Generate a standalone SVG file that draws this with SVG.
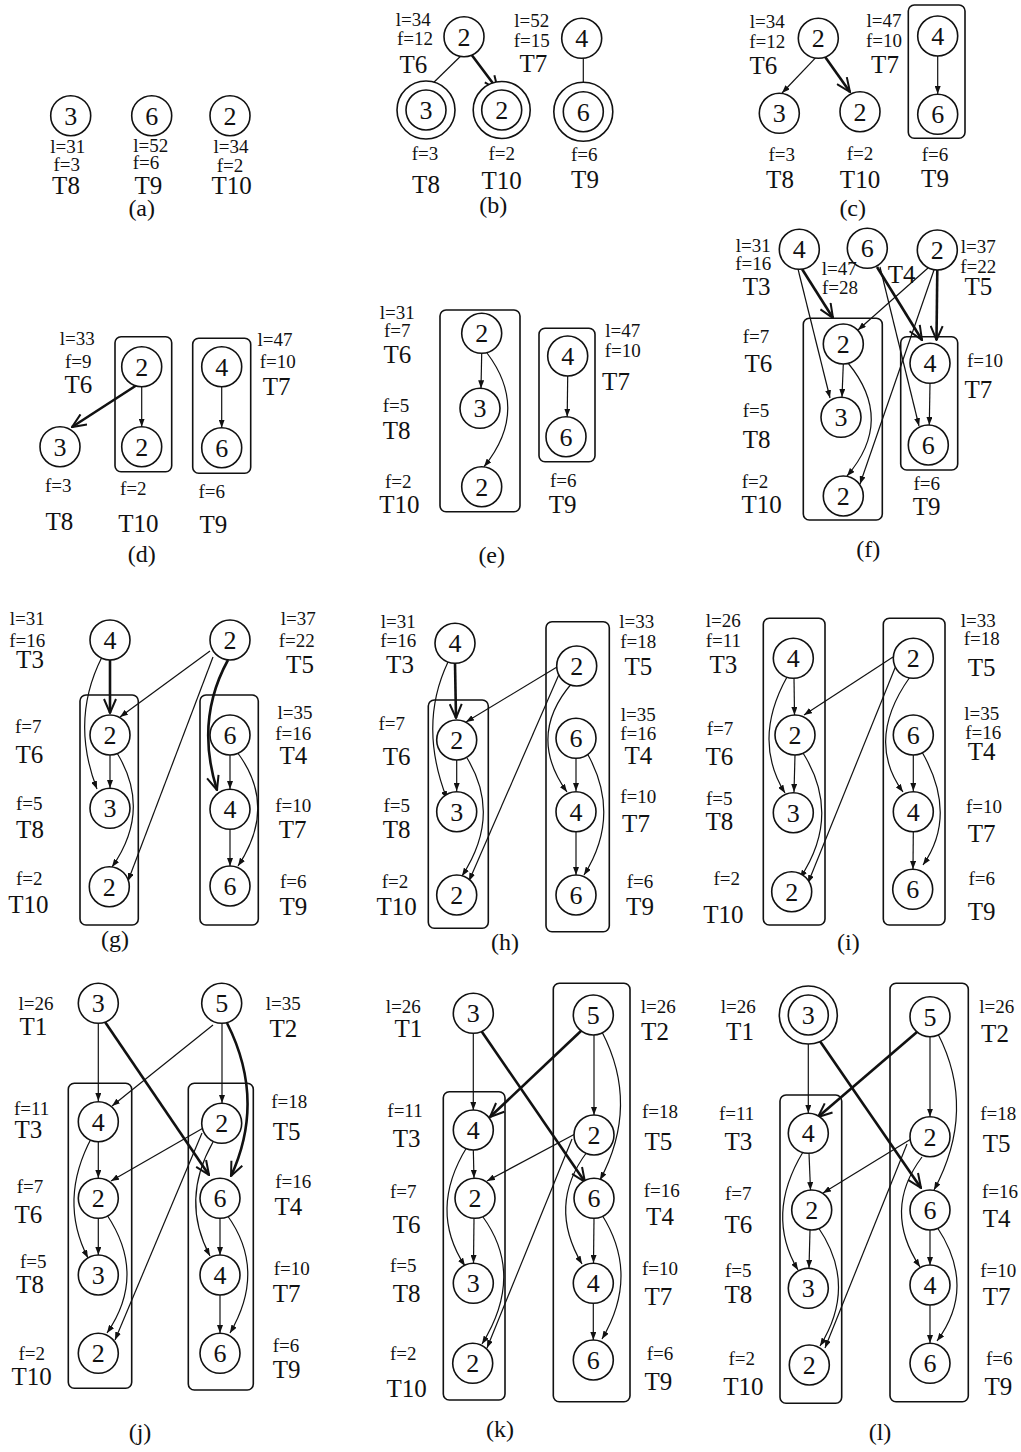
<svg xmlns="http://www.w3.org/2000/svg" width="1021" height="1452" viewBox="0 0 1021 1452">
<style>
text{font-family:"Liberation Serif","Times New Roman",serif;fill:#111;text-anchor:middle}
.n circle{fill:#fff;stroke:#111;stroke-width:1.6}
.n text{font-size:26px}
.ring{fill:none;stroke:#111;stroke-width:1.6}
.t{font-size:25px}
.s{font-size:19px}
.c{font-size:24px}
.box{fill:none;stroke:#111;stroke-width:1.6}
.e{fill:none;stroke:#111;stroke-width:1.2;marker-end:url(#ah)}
.b{fill:none;stroke:#111;stroke-width:2.6;marker-end:url(#av)}
</style>
<defs>
<marker id="ah" markerUnits="userSpaceOnUse" markerWidth="8" markerHeight="6" refX="8" refY="3" orient="auto" viewBox="0 0 8 6"><path d="M0,0 L8,3 L0,6 z" fill="#111"/></marker>
<marker id="av" markerUnits="userSpaceOnUse" markerWidth="16" markerHeight="14" refX="15" refY="7" orient="auto" viewBox="0 0 16 14"><path d="M1,1 L15,7 L1,13" fill="none" stroke="#111" stroke-width="2"/></marker>
</defs>
<rect width="1021" height="1452" fill="#fff"/>

<!-- (a) -->
<g id="panel-a">
<g id="a-T8" class="n"><circle cx="70.7" cy="115.7" r="20"/><text x="70.7" y="124.7">3</text></g>
<g id="a-T9" class="n"><circle cx="151.7" cy="115.7" r="20"/><text x="151.7" y="124.7">6</text></g>
<g id="a-T10" class="n"><circle cx="230" cy="115.7" r="20"/><text x="230" y="124.7">2</text></g>
<text class="s" x="67.7" y="152.7">l=31</text><text class="s" x="66.7" y="170.7">f=3</text><text class="t" x="66" y="194">T8</text>
<text class="s" x="150.7" y="151.7">l=52</text><text class="s" x="146" y="169.3">f=6</text><text class="t" x="148.3" y="194">T9</text>
<text class="s" x="231" y="153.3">l=34</text><text class="s" x="230" y="171.7">f=2</text><text class="t" x="231.7" y="194">T10</text>
<text class="c" x="141.7" y="216">(a)</text>
</g>

<!-- (b) -->
<g id="panel-b">
<g id="b-edges"><path class="e" d="M460,56.7 L427,89"/><path class="b" d="M471.7,55 L498,90"/><path class="e" d="M583.3,58 L583.3,91"/></g>
<g id="b-T6" class="n"><circle cx="464" cy="36.7" r="20"/><text x="464" y="45.7">2</text></g>
<g id="b-T7" class="n"><circle cx="581.7" cy="38.3" r="20"/><text x="581.7" y="47.3">4</text></g>
<g id="b-T8" class="n"><circle class="ring" cx="426" cy="110" r="29"/><circle cx="426" cy="110" r="20"/><text x="426" y="119">3</text></g>
<g id="b-T10" class="n"><circle class="ring" cx="501.7" cy="110" r="28.5"/><circle cx="501.7" cy="110" r="20"/><text x="501.7" y="119">2</text></g>
<g id="b-T9" class="n"><circle class="ring" cx="583.3" cy="111.7" r="29.5"/><circle cx="583.3" cy="111.7" r="20"/><text x="583.3" y="120.7">6</text></g>
<text class="s" x="413.3" y="26">l=34</text><text class="s" x="415" y="45">f=12</text><text class="t" x="413.3" y="72.7">T6</text>
<text class="s" x="531.7" y="26.7">l=52</text><text class="s" x="531.7" y="46.7">f=15</text><text class="t" x="533.3" y="71.7">T7</text>
<text class="s" x="425" y="160">f=3</text><text class="t" x="426" y="193">T8</text>
<text class="s" x="501.7" y="160">f=2</text><text class="t" x="501.7" y="189">T10</text>
<text class="s" x="584.3" y="160.7">f=6</text><text class="t" x="585" y="188">T9</text>
<text class="c" x="493.3" y="213">(b)</text>
</g>

<!-- (c) -->
<g id="panel-c">
<rect class="box" x="908.3" y="5" width="56.7" height="133.3" rx="6"/>
<g id="c-edges"><path class="e" d="M816.7,56.7 L782,93"/><path class="b" d="M825,56.7 L850,92"/><path class="e" d="M937.7,56 L937.7,94"/></g>
<g id="c-T6" class="n"><circle cx="818.3" cy="38.3" r="20"/><text x="818.3" y="47.3">2</text></g>
<g id="c-T8" class="n"><circle cx="779.3" cy="113.3" r="20"/><text x="779.3" y="122.3">3</text></g>
<g id="c-T10" class="n"><circle cx="860" cy="111.7" r="20"/><text x="860" y="120.7">2</text></g>
<g id="c-T7" class="n"><circle cx="937.7" cy="36" r="20"/><text x="937.7" y="45">4</text></g>
<g id="c-T9" class="n"><circle cx="937.7" cy="114.3" r="20"/><text x="937.7" y="123.3">6</text></g>
<text class="s" x="767.3" y="28.3">l=34</text><text class="s" x="767.3" y="48.3">f=12</text><text class="t" x="763.3" y="74">T6</text>
<text class="s" x="884" y="26.7">l=47</text><text class="s" x="884" y="46.7">f=10</text><text class="t" x="885" y="72.7">T7</text>
<text class="s" x="781.7" y="160.7">f=3</text><text class="t" x="780" y="188.3">T8</text>
<text class="s" x="860" y="160">f=2</text><text class="t" x="860" y="188.3">T10</text>
<text class="s" x="935" y="160.7">f=6</text><text class="t" x="935" y="187.3">T9</text>
<text class="c" x="852.7" y="216">(c)</text>
</g>

<!-- (d) -->
<g id="panel-d">
<rect class="box" x="115" y="336.7" width="56.7" height="135" rx="6"/>
<rect class="box" x="192.7" y="338.3" width="58" height="135" rx="6"/>
<g id="d-edges"><path class="b" d="M140,383 L72,427"/><path class="e" d="M141.7,386.7 L141.7,426.7"/><path class="e" d="M221.7,386.7 L221.7,427.7"/></g>
<g id="d-T6" class="n"><circle cx="141.7" cy="366.7" r="20"/><text x="141.7" y="375.7">2</text></g>
<g id="d-T10" class="n"><circle cx="141.7" cy="446.7" r="20"/><text x="141.7" y="455.7">2</text></g>
<g id="d-T7" class="n"><circle cx="221.7" cy="366.7" r="20"/><text x="221.7" y="375.7">4</text></g>
<g id="d-T9" class="n"><circle cx="221.7" cy="447.7" r="20"/><text x="221.7" y="456.7">6</text></g>
<g id="d-T8" class="n"><circle cx="60" cy="446.7" r="20"/><text x="60" y="455.7">3</text></g>
<text class="s" x="77.3" y="345">l=33</text><text class="s" x="78.3" y="368.3">f=9</text><text class="t" x="78.3" y="393.3">T6</text>
<text class="s" x="275" y="346">l=47</text><text class="s" x="277.7" y="368.3">f=10</text><text class="t" x="276.7" y="395">T7</text>
<text class="s" x="58.3" y="491.7">f=3</text><text class="t" x="59.3" y="530">T8</text>
<text class="s" x="133.3" y="495">f=2</text><text class="t" x="138.3" y="531.7">T10</text>
<text class="s" x="211.7" y="498.3">f=6</text><text class="t" x="213.3" y="533.3">T9</text>
<text class="c" x="141.7" y="561.7">(d)</text>
</g>

<!-- (e) -->
<g id="panel-e">
<rect class="box" x="440" y="310" width="80" height="201.7" rx="6"/>
<rect class="box" x="539" y="328.3" width="56" height="133.4" rx="6"/>
<g id="e-edges"><path class="e" d="M481.7,353.3 L481,388.3"/><path class="e" d="M487,353 Q530,410 484,466.7"/><path class="e" d="M567.7,376 L567.2,416.7"/></g>
<g id="e-T6" class="n"><circle cx="481.7" cy="333.3" r="20"/><text x="481.7" y="342.3">2</text></g>
<g id="e-T8" class="n"><circle cx="480" cy="408.3" r="20"/><text x="480" y="417.3">3</text></g>
<g id="e-T10" class="n"><circle cx="481.7" cy="486.7" r="20"/><text x="481.7" y="495.7">2</text></g>
<g id="e-T7" class="n"><circle cx="567.7" cy="356" r="20"/><text x="567.7" y="365">4</text></g>
<g id="e-T9" class="n"><circle cx="566" cy="436.7" r="20"/><text x="566" y="445.7">6</text></g>
<text class="s" x="397.3" y="319.3">l=31</text><text class="s" x="397.3" y="337.3">f=7</text><text class="t" x="397.3" y="363.3">T6</text>
<text class="s" x="396" y="411.7">f=5</text><text class="t" x="396.7" y="439.3">T8</text>
<text class="s" x="398.3" y="488.3">f=2</text><text class="t" x="399.3" y="513.3">T10</text>
<text class="s" x="622.7" y="336.7">l=47</text><text class="s" x="622.7" y="357.3">f=10</text><text class="t" x="616" y="390">T7</text>
<text class="s" x="563.3" y="486.7">f=6</text><text class="t" x="562.7" y="513.3">T9</text>
<text class="c" x="491.7" y="563.3">(e)</text>
</g>

<!-- (f) -->
<g id="panel-f">
<rect class="box" x="803.3" y="318.3" width="79" height="201.7" rx="6"/>
<rect class="box" x="900.7" y="336.7" width="57" height="133.3" rx="6"/>
<g id="f-edges">
<path class="e" d="M798,269 L830,398"/>
<path class="b" d="M802,269 L833,318"/>
<path class="e" d="M880,267 L919,426"/>
<path class="b" d="M877,267 L922,340"/>
<path class="e" d="M928,268 L858,330"/>
<path class="e" d="M934,270 L860,484"/>
<path class="b" d="M937.3,270 L936.5,340"/>
<path class="e" d="M843.3,364 L842,397"/>
<path class="e" d="M848,363 Q895,420 847,476"/>
<path class="e" d="M930,383.3 L929.3,425"/>
</g>
<g id="f-T3" class="n"><circle cx="799.3" cy="249.3" r="20"/><text x="799.3" y="258.3">4</text></g>
<g id="f-T4" class="n"><circle cx="867.3" cy="248.3" r="20"/><text x="867.3" y="257.3">6</text></g>
<g id="f-T5" class="n"><circle cx="937.3" cy="250" r="20"/><text x="937.3" y="259">2</text></g>
<g id="f-T6" class="n"><circle cx="843.3" cy="344" r="20"/><text x="843.3" y="353">2</text></g>
<g id="f-T8" class="n"><circle cx="841" cy="417.3" r="20"/><text x="841" y="426.3">3</text></g>
<g id="f-T10" class="n"><circle cx="843.3" cy="496" r="20"/><text x="843.3" y="505">2</text></g>
<g id="f-T7" class="n"><circle cx="930" cy="363.3" r="20"/><text x="930" y="372.3">4</text></g>
<g id="f-T9" class="n"><circle cx="928.3" cy="445" r="20"/><text x="928.3" y="454">6</text></g>
<text class="s" x="753.3" y="251.7">l=31</text><text class="s" x="753.3" y="270">f=16</text><text class="t" x="756.7" y="295">T3</text>
<text class="s" x="839.3" y="275">l=47</text><text class="s" x="840" y="294">f=28</text><text class="t" x="901.7" y="283.3">T4</text>
<text class="s" x="978.3" y="253.3">l=37</text><text class="s" x="978.3" y="273.3">f=22</text><text class="t" x="978.3" y="295">T5</text>
<text class="s" x="756" y="343.3">f=7</text><text class="t" x="758.3" y="371.7">T6</text>
<text class="s" x="756" y="416.7">f=5</text><text class="t" x="756.7" y="447.7">T8</text>
<text class="s" x="755" y="488.3">f=2</text><text class="t" x="761.7" y="513.3">T10</text>
<text class="s" x="985" y="366.7">f=10</text><text class="t" x="978.3" y="398.3">T7</text>
<text class="s" x="926.7" y="490">f=6</text><text class="t" x="926.7" y="515">T9</text>
<text class="c" x="868.3" y="556.7">(f)</text>
</g>

<!-- (g) -->
<g id="panel-g">
<rect class="box" x="80" y="695" width="58.3" height="230" rx="6"/>
<rect class="box" x="200" y="695" width="58.3" height="230" rx="6"/>
<g id="g-edges">
<path class="b" d="M110,660 L110,713"/>
<path class="e" d="M102,657 Q70,720 97,789"/>
<path class="e" d="M210,651 L120,717"/>
<path class="e" d="M213,657 L128,881"/>
<path class="b" d="M228,660 Q195,720 217,790"/>
<path class="e" d="M110,755 L110,788"/>
<path class="e" d="M117,753 Q152,810 112,867"/>
<path class="e" d="M230,755 L230,789"/>
<path class="e" d="M237,752 Q278,806 238,866"/>
<path class="e" d="M230,829 L230,866"/>
</g>
<g id="g-T3" class="n"><circle cx="110" cy="640" r="20"/><text x="110" y="649">4</text></g>
<g id="g-T5" class="n"><circle cx="230" cy="640" r="20"/><text x="230" y="649">2</text></g>
<g id="g-T6" class="n"><circle cx="110" cy="735" r="20"/><text x="110" y="744">2</text></g>
<g id="g-T8" class="n"><circle cx="110" cy="808.3" r="20"/><text x="110" y="817.3">3</text></g>
<g id="g-T10" class="n"><circle cx="109.3" cy="886.7" r="20"/><text x="109.3" y="895.7">2</text></g>
<g id="g-T4" class="n"><circle cx="230" cy="735" r="20"/><text x="230" y="744">6</text></g>
<g id="g-T7" class="n"><circle cx="230" cy="809.3" r="20"/><text x="230" y="818.3">4</text></g>
<g id="g-T9" class="n"><circle cx="230" cy="886" r="20"/><text x="230" y="895">6</text></g>
<text class="s" x="27.3" y="625">l=31</text><text class="s" x="27.3" y="646.7">f=16</text><text class="t" x="30" y="668.3">T3</text>
<text class="s" x="298.3" y="625">l=37</text><text class="s" x="296.7" y="646.7">f=22</text><text class="t" x="300" y="673.3">T5</text>
<text class="s" x="28.3" y="733.3">f=7</text><text class="t" x="29.3" y="763.3">T6</text>
<text class="s" x="295" y="719">l=35</text><text class="s" x="293.3" y="740">f=16</text><text class="t" x="293.3" y="764">T4</text>
<text class="s" x="29.3" y="810">f=5</text><text class="t" x="30" y="838.3">T8</text>
<text class="s" x="293.3" y="811.7">f=10</text><text class="t" x="292.7" y="838.3">T7</text>
<text class="s" x="29.3" y="885">f=2</text><text class="t" x="28.3" y="913.3">T10</text>
<text class="s" x="293.3" y="888.3">f=6</text><text class="t" x="293.3" y="915">T9</text>
<text class="c" x="115" y="947.3">(g)</text>
</g>

<!-- (h) -->
<g id="panel-h">
<rect class="box" x="428.3" y="700" width="60" height="228.3" rx="6"/>
<rect class="box" x="546" y="621.7" width="63.3" height="310" rx="6"/>
<g id="h-edges">
<path class="b" d="M455,663 L456,718"/>
<path class="e" d="M448,662 Q418,725 447,799"/>
<path class="e" d="M557,667 L466,722"/>
<path class="e" d="M560,672 L469,881"/>
<path class="e" d="M573,682 Q526,735 567,792"/>
<path class="e" d="M456.7,760 L456.7,791"/>
<path class="e" d="M467,758 Q502,815 462,876"/>
<path class="e" d="M576,758 L576,791"/>
<path class="e" d="M587,753 Q622,815 584,875"/>
<path class="e" d="M576,832 L576,875"/>
</g>
<g id="h-T3" class="n"><circle cx="455" cy="643.3" r="20"/><text x="455" y="652.3">4</text></g>
<g id="h-T5" class="n"><circle cx="576.7" cy="666" r="20"/><text x="576.7" y="675">2</text></g>
<g id="h-T6" class="n"><circle cx="456.7" cy="740" r="20"/><text x="456.7" y="749">2</text></g>
<g id="h-T8" class="n"><circle cx="456.7" cy="811.7" r="20"/><text x="456.7" y="820.7">3</text></g>
<g id="h-T10" class="n"><circle cx="456.7" cy="895" r="20"/><text x="456.7" y="904">2</text></g>
<g id="h-T4" class="n"><circle cx="576" cy="738.3" r="20"/><text x="576" y="747.3">6</text></g>
<g id="h-T7" class="n"><circle cx="576" cy="811.7" r="20"/><text x="576" y="820.7">4</text></g>
<g id="h-T9" class="n"><circle cx="576" cy="895" r="20"/><text x="576" y="904">6</text></g>
<text class="s" x="398.3" y="628.3">l=31</text><text class="s" x="398.3" y="646.7">f=16</text><text class="t" x="400" y="673.3">T3</text>
<text class="s" x="636.7" y="628.3">l=33</text><text class="s" x="638.3" y="648.3">f=18</text><text class="t" x="638.3" y="675">T5</text>
<text class="s" x="391.7" y="730">f=7</text><text class="t" x="396.7" y="765">T6</text>
<text class="s" x="638.3" y="721">l=35</text><text class="s" x="638.3" y="740">f=16</text><text class="t" x="638.3" y="764">T4</text>
<text class="s" x="396.7" y="811.7">f=5</text><text class="t" x="396.7" y="838.3">T8</text>
<text class="s" x="638.3" y="802.7">f=10</text><text class="t" x="636" y="831.7">T7</text>
<text class="s" x="395" y="888.3">f=2</text><text class="t" x="396.7" y="915">T10</text>
<text class="s" x="640" y="888.3">f=6</text><text class="t" x="640" y="915">T9</text>
<text class="c" x="505" y="950">(h)</text>
</g>

<!-- (i) -->
<g id="panel-i">
<rect class="box" x="763.3" y="618.3" width="61.7" height="306.7" rx="6"/>
<rect class="box" x="883.3" y="618.3" width="61.7" height="306.7" rx="6"/>
<g id="i-edges">
<path class="e" d="M794,678 L794.5,715"/>
<path class="e" d="M787,677 Q752,740 785,793"/>
<path class="e" d="M893,657 L804,715"/>
<path class="e" d="M897,663 L808,883"/>
<path class="e" d="M910,677 Q865,740 903,792"/>
<path class="e" d="M795,755 L794,792"/>
<path class="e" d="M803,753 Q842,815 800,878"/>
<path class="e" d="M913.3,755 L913.3,791"/>
<path class="e" d="M922,752 Q958,815 923,865"/>
<path class="e" d="M913.3,831.7 L913,869"/>
</g>
<g id="i-T3" class="n"><circle cx="793.3" cy="658.3" r="20"/><text x="793.3" y="667.3">4</text></g>
<g id="i-T6" class="n"><circle cx="795" cy="735" r="20"/><text x="795" y="744">2</text></g>
<g id="i-T8" class="n"><circle cx="793.3" cy="812.7" r="20"/><text x="793.3" y="821.7">3</text></g>
<g id="i-T10" class="n"><circle cx="791.7" cy="891.7" r="20"/><text x="791.7" y="900.7">2</text></g>
<g id="i-T5" class="n"><circle cx="913.3" cy="658.3" r="20"/><text x="913.3" y="667.3">2</text></g>
<g id="i-T4" class="n"><circle cx="913.3" cy="735" r="20"/><text x="913.3" y="744">6</text></g>
<g id="i-T7" class="n"><circle cx="913.3" cy="811.7" r="20"/><text x="913.3" y="820.7">4</text></g>
<g id="i-T9" class="n"><circle cx="912.7" cy="889.3" r="20"/><text x="912.7" y="898.3">6</text></g>
<text class="s" x="723.3" y="626.7">l=26</text><text class="s" x="723.3" y="646.7">f=11</text><text class="t" x="723.3" y="673.3">T3</text>
<text class="s" x="978.3" y="626.7">l=33</text><text class="s" x="981.7" y="645">f=18</text><text class="t" x="981.7" y="676">T5</text>
<text class="s" x="720" y="735">f=7</text><text class="t" x="719.3" y="765">T6</text>
<text class="s" x="981.7" y="720">l=35</text><text class="s" x="983.3" y="739">f=16</text><text class="t" x="981.7" y="760">T4</text>
<text class="s" x="719.3" y="805">f=5</text><text class="t" x="719.3" y="830">T8</text>
<text class="s" x="984" y="812.7">f=10</text><text class="t" x="981.7" y="841.7">T7</text>
<text class="s" x="726.7" y="885">f=2</text><text class="t" x="723.3" y="923.3">T10</text>
<text class="s" x="981.7" y="885">f=6</text><text class="t" x="981.7" y="920">T9</text>
<text class="c" x="848.3" y="950">(i)</text>
</g>

<!-- (j) -->
<g id="panel-j">
<rect class="box" x="68.3" y="1083.3" width="63.4" height="305" rx="6"/>
<rect class="box" x="188.3" y="1083.3" width="65" height="306.7" rx="6"/>
<g id="j-edges">
<path class="e" d="M98.3,1023.3 L98.3,1101"/>
<path class="b" d="M103,1019 L209,1175"/>
<path class="e" d="M213,1025 L112,1106"/>
<path class="e" d="M222,1023 L222,1103"/>
<path class="b" d="M227,1023 Q266,1100 231,1176"/>
<path class="e" d="M205,1127 L111,1181"/>
<path class="e" d="M202,1133 L115,1340"/>
<path class="e" d="M213,1142 Q180,1200 210,1256"/>
<path class="e" d="M98.3,1141.7 L98.3,1178"/>
<path class="e" d="M92,1137 Q58,1200 88,1258"/>
<path class="e" d="M98.3,1218.3 L98.3,1255"/>
<path class="e" d="M107,1215 Q147,1275 107,1333"/>
<path class="e" d="M220,1218.3 L220,1255"/>
<path class="e" d="M227,1215 Q267,1270 230,1333"/>
<path class="e" d="M220,1295 L220,1333"/>
</g>
<g id="j-T1" class="n"><circle cx="98.3" cy="1003.3" r="20"/><text x="98.3" y="1012.3">3</text></g>
<g id="j-T2" class="n"><circle cx="221.7" cy="1003.3" r="20"/><text x="221.7" y="1012.3">5</text></g>
<g id="j-T3" class="n"><circle cx="98.3" cy="1121.7" r="20"/><text x="98.3" y="1130.7">4</text></g>
<g id="j-T6" class="n"><circle cx="98.3" cy="1198.3" r="20"/><text x="98.3" y="1207.3">2</text></g>
<g id="j-T8" class="n"><circle cx="98.3" cy="1275" r="20"/><text x="98.3" y="1284">3</text></g>
<g id="j-T10" class="n"><circle cx="98.3" cy="1353.3" r="20"/><text x="98.3" y="1362.3">2</text></g>
<g id="j-T5" class="n"><circle cx="221.7" cy="1123.3" r="20"/><text x="221.7" y="1132.3">2</text></g>
<g id="j-T4" class="n"><circle cx="220" cy="1198.3" r="20"/><text x="220" y="1207.3">6</text></g>
<g id="j-T7" class="n"><circle cx="220" cy="1275" r="20"/><text x="220" y="1284">4</text></g>
<g id="j-T9" class="n"><circle cx="220" cy="1353.3" r="20"/><text x="220" y="1362.3">6</text></g>
<text class="s" x="36" y="1010">l=26</text><text class="t" x="33.3" y="1035">T1</text>
<text class="s" x="283.3" y="1010">l=35</text><text class="t" x="283.3" y="1036.7">T2</text>
<text class="s" x="31.7" y="1115">f=11</text><text class="t" x="28.3" y="1138.3">T3</text>
<text class="s" x="289.3" y="1108.3">f=18</text><text class="t" x="286.7" y="1140">T5</text>
<text class="s" x="30" y="1193.3">f=7</text><text class="t" x="28.3" y="1223.3">T6</text>
<text class="s" x="293.3" y="1188.3">f=16</text><text class="t" x="288.3" y="1215">T4</text>
<text class="s" x="33.3" y="1268.3">f=5</text><text class="t" x="30" y="1293.3">T8</text>
<text class="s" x="291.7" y="1275">f=10</text><text class="t" x="286.7" y="1301.7">T7</text>
<text class="s" x="31.7" y="1360">f=2</text><text class="t" x="31.7" y="1385">T10</text>
<text class="s" x="286" y="1351.7">f=6</text><text class="t" x="286.7" y="1378.3">T9</text>
<text class="c" x="140" y="1440">(j)</text>
</g>

<!-- (k) -->
<g id="panel-k">
<rect class="box" x="443.3" y="1091.7" width="61.7" height="308.3" rx="6"/>
<rect class="box" x="553.3" y="983.3" width="76.7" height="418.4" rx="6"/>
<g id="k-edges">
<path class="e" d="M473.3,1033.3 L473.3,1110"/>
<path class="b" d="M480,1029 L585,1182"/>
<path class="b" d="M582,1030 L490,1117"/>
<path class="e" d="M594,1035 L594,1115"/>
<path class="e" d="M602,1032 Q640,1105 600,1180"/>
<path class="e" d="M575,1134 L487,1181"/>
<path class="e" d="M572,1139 L487,1348"/>
<path class="e" d="M587,1152 Q547,1205 582,1264"/>
<path class="e" d="M473.3,1150 L474,1178"/>
<path class="e" d="M467,1147 Q428,1210 465,1266"/>
<path class="e" d="M474,1218.3 L473.5,1263"/>
<path class="e" d="M483,1217 Q525,1275 482,1344"/>
<path class="e" d="M594,1218.3 L593.5,1263"/>
<path class="e" d="M602,1215 Q640,1275 602,1339"/>
<path class="e" d="M593.3,1303.3 L593.3,1340"/>
</g>
<g id="k-T1" class="n"><circle cx="473.3" cy="1013.3" r="20"/><text x="473.3" y="1022.3">3</text></g>
<g id="k-T2" class="n"><circle cx="593.3" cy="1015" r="20"/><text x="593.3" y="1024">5</text></g>
<g id="k-T3" class="n"><circle cx="473.3" cy="1130" r="20"/><text x="473.3" y="1139">4</text></g>
<g id="k-T6" class="n"><circle cx="475" cy="1198.3" r="20"/><text x="475" y="1207.3">2</text></g>
<g id="k-T8" class="n"><circle cx="473.3" cy="1283.3" r="20"/><text x="473.3" y="1292.3">3</text></g>
<g id="k-T10" class="n"><circle cx="472.7" cy="1363.3" r="20"/><text x="472.7" y="1372.3">2</text></g>
<g id="k-T5" class="n"><circle cx="594" cy="1135" r="20"/><text x="594" y="1144">2</text></g>
<g id="k-T4" class="n"><circle cx="594" cy="1198.3" r="20"/><text x="594" y="1207.3">6</text></g>
<g id="k-T7" class="n"><circle cx="593.3" cy="1283.3" r="20"/><text x="593.3" y="1292.3">4</text></g>
<g id="k-T9" class="n"><circle cx="593.3" cy="1360" r="20"/><text x="593.3" y="1369">6</text></g>
<text class="s" x="403.3" y="1013.3">l=26</text><text class="t" x="408.3" y="1036.7">T1</text>
<text class="s" x="658.3" y="1013.3">l=26</text><text class="t" x="655" y="1040">T2</text>
<text class="s" x="405" y="1116.7">f=11</text><text class="t" x="406.7" y="1146.7">T3</text>
<text class="s" x="660" y="1118.3">f=18</text><text class="t" x="658.3" y="1150">T5</text>
<text class="s" x="403.3" y="1198.3">f=7</text><text class="t" x="406.7" y="1233.3">T6</text>
<text class="s" x="661.7" y="1196.7">f=16</text><text class="t" x="660" y="1225">T4</text>
<text class="s" x="403.3" y="1271.7">f=5</text><text class="t" x="406.7" y="1301.7">T8</text>
<text class="s" x="660" y="1275">f=10</text><text class="t" x="658.3" y="1305">T7</text>
<text class="s" x="403.3" y="1360">f=2</text><text class="t" x="406.7" y="1396.7">T10</text>
<text class="s" x="660" y="1360">f=6</text><text class="t" x="658.3" y="1390">T9</text>
<text class="c" x="500" y="1436.7">(k)</text>
</g>

<!-- (l) -->
<g id="panel-l">
<rect class="box" x="780" y="1095" width="61.7" height="308.3" rx="6"/>
<rect class="box" x="890" y="983.3" width="78.3" height="418.4" rx="6"/>
<g id="l-edges">
<path class="e" d="M808.3,1035 L808.3,1113"/>
<path class="b" d="M815,1034 L921,1188"/>
<path class="b" d="M917,1032 L818,1117"/>
<path class="e" d="M930,1036.7 L930,1116.7"/>
<path class="e" d="M938,1034 Q977,1110 934,1190"/>
<path class="e" d="M911,1139 L823,1193"/>
<path class="e" d="M907,1144 L825,1348"/>
<path class="e" d="M922,1157 Q882,1210 920,1267"/>
<path class="e" d="M809,1153.3 L810.5,1190"/>
<path class="e" d="M803,1152 Q765,1215 798,1270"/>
<path class="e" d="M810,1230 L809,1268"/>
<path class="e" d="M818,1227 Q858,1285 820,1346"/>
<path class="e" d="M930,1230 L930,1265"/>
<path class="e" d="M937,1227 Q977,1287 937,1341"/>
<path class="e" d="M930,1305 L930,1343"/>
</g>
<g id="l-T1" class="n"><circle class="ring" cx="808.3" cy="1015" r="29"/><circle cx="808.3" cy="1015" r="20"/><text x="808.3" y="1024">3</text></g>
<g id="l-T2" class="n"><circle cx="930" cy="1016.7" r="20"/><text x="930" y="1025.7">5</text></g>
<g id="l-T3" class="n"><circle cx="808.3" cy="1133.3" r="20"/><text x="808.3" y="1142.3">4</text></g>
<g id="l-T6" class="n"><circle cx="811.7" cy="1210" r="20"/><text x="811.7" y="1219">2</text></g>
<g id="l-T8" class="n"><circle cx="808.3" cy="1288.3" r="20"/><text x="808.3" y="1297.3">3</text></g>
<g id="l-T10" class="n"><circle cx="809.3" cy="1365" r="20"/><text x="809.3" y="1374">2</text></g>
<g id="l-T5" class="n"><circle cx="930" cy="1136.7" r="20"/><text x="930" y="1145.7">2</text></g>
<g id="l-T4" class="n"><circle cx="930" cy="1210" r="20"/><text x="930" y="1219">6</text></g>
<g id="l-T7" class="n"><circle cx="930" cy="1285" r="20"/><text x="930" y="1294">4</text></g>
<g id="l-T9" class="n"><circle cx="930" cy="1363.3" r="20"/><text x="930" y="1372.3">6</text></g>
<text class="s" x="738.3" y="1013.3">l=26</text><text class="t" x="740" y="1040">T1</text>
<text class="s" x="996.7" y="1013.3">l=26</text><text class="t" x="995" y="1041.7">T2</text>
<text class="s" x="736.7" y="1120">f=11</text><text class="t" x="738.3" y="1150">T3</text>
<text class="s" x="998.3" y="1120">f=18</text><text class="t" x="996.7" y="1151.7">T5</text>
<text class="s" x="738.3" y="1200">f=7</text><text class="t" x="738.3" y="1233.3">T6</text>
<text class="s" x="1000" y="1198.3">f=16</text><text class="t" x="996.7" y="1226.7">T4</text>
<text class="s" x="738.3" y="1276.7">f=5</text><text class="t" x="738.3" y="1303.3">T8</text>
<text class="s" x="998.3" y="1276.7">f=10</text><text class="t" x="996.7" y="1305">T7</text>
<text class="s" x="741.7" y="1365">f=2</text><text class="t" x="743.3" y="1395">T10</text>
<text class="s" x="999.3" y="1365">f=6</text><text class="t" x="998.3" y="1395">T9</text>
<text class="c" x="880" y="1440">(l)</text>
</g>
</svg>
